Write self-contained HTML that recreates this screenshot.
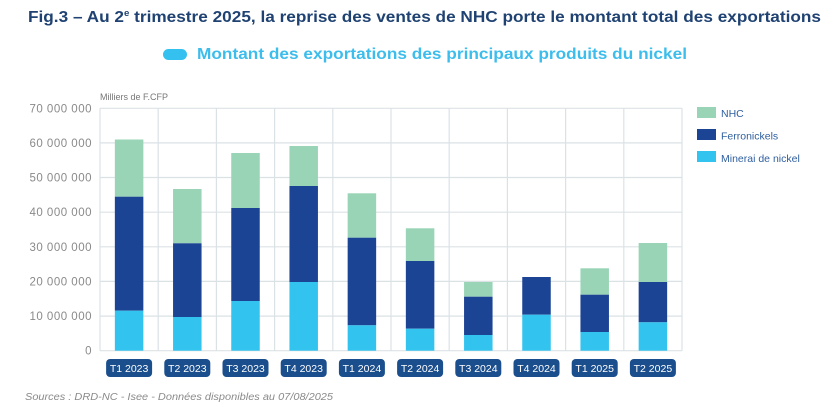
<!DOCTYPE html>
<html>
<head>
<meta charset="utf-8">
<style>
html,body{margin:0;padding:0;background:#fff;}
svg{display:block;}
text{font-family:"Liberation Sans",sans-serif;}
</style>
</head>
<body>
<svg width="835" height="407" viewBox="0 0 835 407" xmlns="http://www.w3.org/2000/svg">
  <rect width="835" height="407" fill="#ffffff"/>
  <!-- Title -->
  <text x="28" y="22" font-size="16" font-weight="bold" fill="#1f4272" textLength="793" lengthAdjust="spacingAndGlyphs">Fig.3 – Au 2<tspan font-size="9" dy="-6">e</tspan><tspan dy="6"> trimestre 2025, la reprise des ventes de NHC porte le montant total des exportations</tspan></text>
  <!-- Subtitle -->
  <rect x="163" y="49" width="24" height="11" rx="5.5" fill="#34c1ef"/>
  <text x="197" y="59" font-size="15.5" font-weight="bold" fill="#3cbdec" textLength="490" lengthAdjust="spacingAndGlyphs">Montant des exportations des principaux produits du nickel</text>

  <text x="100" y="100" font-size="9.5" fill="#777" textLength="68" lengthAdjust="spacingAndGlyphs">Milliers de F.CFP</text>

  <!-- gridlines horizontal -->
  <g stroke="#dbe2e6" stroke-width="1.2">
    <line x1="100" y1="108.3" x2="682" y2="108.3"/>
    <line x1="100" y1="142.9" x2="682" y2="142.9"/>
    <line x1="100" y1="177.5" x2="682" y2="177.5"/>
    <line x1="100" y1="212.2" x2="682" y2="212.2"/>
    <line x1="100" y1="246.8" x2="682" y2="246.8"/>
    <line x1="100" y1="281.4" x2="682" y2="281.4"/>
    <line x1="100" y1="316.1" x2="682" y2="316.1"/>
    <line x1="100" y1="350.7" x2="682" y2="350.7"/>
    <!-- vertical -->
    <line x1="100" y1="108.3" x2="100" y2="350.7"/>
    <line x1="158.2" y1="108.3" x2="158.2" y2="350.7"/>
    <line x1="216.4" y1="108.3" x2="216.4" y2="350.7"/>
    <line x1="274.6" y1="108.3" x2="274.6" y2="350.7"/>
    <line x1="332.8" y1="108.3" x2="332.8" y2="350.7"/>
    <line x1="391" y1="108.3" x2="391" y2="350.7"/>
    <line x1="449.2" y1="108.3" x2="449.2" y2="350.7"/>
    <line x1="507.4" y1="108.3" x2="507.4" y2="350.7"/>
    <line x1="565.6" y1="108.3" x2="565.6" y2="350.7"/>
    <line x1="623.8" y1="108.3" x2="623.8" y2="350.7"/>
    <line x1="682" y1="108.3" x2="682" y2="350.7"/>
  </g>

  <!-- y labels -->
  <g font-size="11.5" fill="#8a8a8a" text-anchor="end" letter-spacing="0.5">
    <text x="92" y="112.5">70 000 000</text>
    <text x="92" y="147">60 000 000</text>
    <text x="92" y="181.5">50 000 000</text>
    <text x="92" y="216.2">40 000 000</text>
    <text x="92" y="250.8">30 000 000</text>
    <text x="92" y="285.4">20 000 000</text>
    <text x="92" y="320.1">10 000 000</text>
    <text x="92" y="354.7">0</text>
  </g>

  <!-- bars: NHC (top), Ferro, Minerai -->
  <g>
    <rect x="114.85" y="139.5" width="28.5" height="57.2" fill="#98d4b5"/>
    <rect x="114.85" y="196.7" width="28.5" height="114" fill="#1c4494"/>
    <rect x="114.85" y="310.7" width="28.5" height="40" fill="#33c3ef"/>
    <rect x="173.05" y="189" width="28.5" height="54.3" fill="#98d4b5"/>
    <rect x="173.05" y="243.3" width="28.5" height="73.7" fill="#1c4494"/>
    <rect x="173.05" y="317" width="28.5" height="33.7" fill="#33c3ef"/>
    <rect x="231.25" y="153" width="28.5" height="55" fill="#98d4b5"/>
    <rect x="231.25" y="208" width="28.5" height="93" fill="#1c4494"/>
    <rect x="231.25" y="301" width="28.5" height="49.7" fill="#33c3ef"/>
    <rect x="289.45" y="146" width="28.5" height="40" fill="#98d4b5"/>
    <rect x="289.45" y="186" width="28.5" height="96" fill="#1c4494"/>
    <rect x="289.45" y="282" width="28.5" height="68.7" fill="#33c3ef"/>
    <rect x="347.65" y="193.3" width="28.5" height="44.4" fill="#98d4b5"/>
    <rect x="347.65" y="237.7" width="28.5" height="87.6" fill="#1c4494"/>
    <rect x="347.65" y="325.3" width="28.5" height="25.4" fill="#33c3ef"/>
    <rect x="405.85" y="228.3" width="28.5" height="32.7" fill="#98d4b5"/>
    <rect x="405.85" y="261" width="28.5" height="67.7" fill="#1c4494"/>
    <rect x="405.85" y="328.7" width="28.5" height="22" fill="#33c3ef"/>
    <rect x="464.05" y="282" width="28.5" height="14.7" fill="#98d4b5"/>
    <rect x="464.05" y="296.7" width="28.5" height="38.3" fill="#1c4494"/>
    <rect x="464.05" y="335" width="28.5" height="15.7" fill="#33c3ef"/>
    <rect x="522.25" y="277" width="28.5" height="37.7" fill="#1c4494"/>
    <rect x="522.25" y="314.7" width="28.5" height="36" fill="#33c3ef"/>
    <rect x="580.45" y="268.3" width="28.5" height="26.4" fill="#98d4b5"/>
    <rect x="580.45" y="294.7" width="28.5" height="37.3" fill="#1c4494"/>
    <rect x="580.45" y="332" width="28.5" height="18.7" fill="#33c3ef"/>
    <rect x="638.65" y="243" width="28.5" height="39" fill="#98d4b5"/>
    <rect x="638.65" y="282" width="28.5" height="40.3" fill="#1c4494"/>
    <rect x="638.65" y="322.3" width="28.5" height="28.4" fill="#33c3ef"/>
  </g>

  <!-- x labels pills -->
  <g fill="#1b4e8c">
    <rect x="106.1" y="359" width="46" height="18" rx="4"/>
    <rect x="164.3" y="359" width="46" height="18" rx="4"/>
    <rect x="222.5" y="359" width="46" height="18" rx="4"/>
    <rect x="280.7" y="359" width="46" height="18" rx="4"/>
    <rect x="338.9" y="359" width="46" height="18" rx="4"/>
    <rect x="397.1" y="359" width="46" height="18" rx="4"/>
    <rect x="455.3" y="359" width="46" height="18" rx="4"/>
    <rect x="513.5" y="359" width="46" height="18" rx="4"/>
    <rect x="571.7" y="359" width="46" height="18" rx="4"/>
    <rect x="629.9" y="359" width="46" height="18" rx="4"/>
  </g>
  <g font-size="10.5" fill="#ffffff" text-anchor="middle">
    <text x="129.1" y="372">T1 2023</text>
    <text x="187.3" y="372">T2 2023</text>
    <text x="245.5" y="372">T3 2023</text>
    <text x="303.7" y="372">T4 2023</text>
    <text x="361.9" y="372">T1 2024</text>
    <text x="420.1" y="372">T2 2024</text>
    <text x="478.3" y="372">T3 2024</text>
    <text x="536.5" y="372">T4 2024</text>
    <text x="594.7" y="372">T1 2025</text>
    <text x="652.9" y="372">T2 2025</text>
  </g>

  <!-- legend -->
  <rect x="697" y="107" width="19" height="11" fill="#98d4b5"/>
  <rect x="697" y="129" width="19" height="11" fill="#1c4494"/>
  <rect x="697" y="151" width="19" height="11" fill="#33c3ef"/>
  <g font-size="10.5" fill="#2f5f9e">
    <text x="721" y="117">NHC</text>
    <text x="721" y="139.5">Ferronickels</text>
    <text x="721" y="162">Minerai de nickel</text>
  </g>

  <!-- footer -->
  <text x="25" y="400" font-size="10" font-style="italic" fill="#8a8a8a" textLength="308" lengthAdjust="spacingAndGlyphs">Sources : DRD-NC - Isee - Données disponibles au 07/08/2025</text>
</svg>
</body>
</html>
